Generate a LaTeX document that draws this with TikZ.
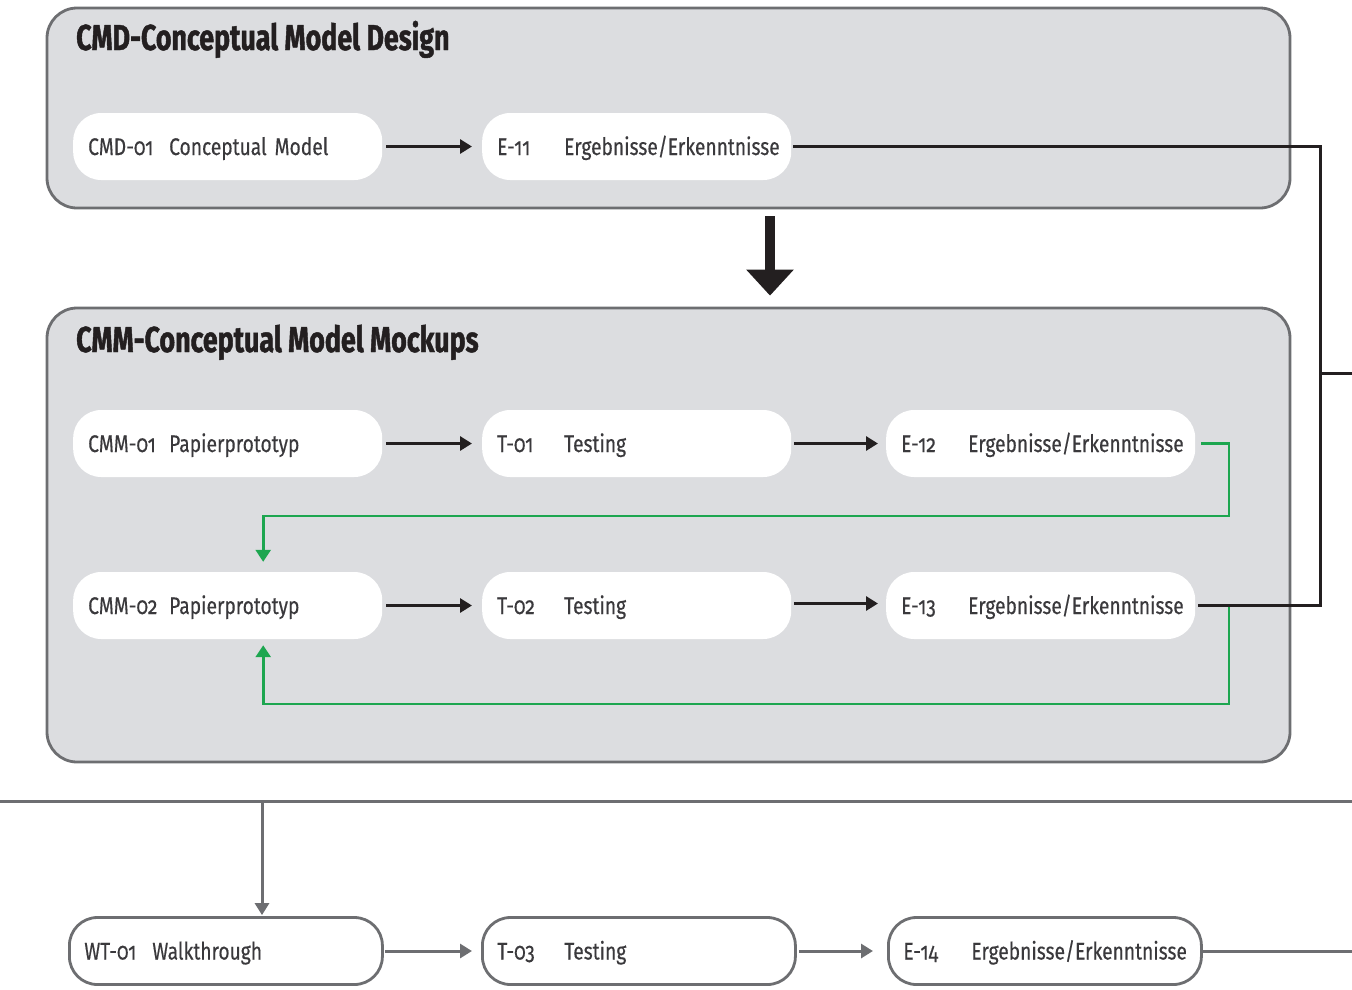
\documentclass[tikz,border=0pt]{standalone}
\usepackage{fontspec}
\setmainfont{Fira Sans}[FakeStretch=0.8, Numbers=OldStyle, FakeBold=0.4]
\newfontfamily\titlefont{Fira Sans}[FakeStretch=0.745, FakeBold=1.2]
\usetikzlibrary{arrows.meta}

\definecolor{panelfill}{RGB}{220,221,224}
\definecolor{panelline}{RGB}{109,110,113}
\definecolor{ink}{RGB}{35,31,32}
\definecolor{txt}{RGB}{58,57,60}
\definecolor{loopgreen}{RGB}{29,166,80}

\newcommand{\pfx}[2]{\makebox[#1pt][l]{#2}}

\tikzset{
  panel/.style={draw=panelline, fill=panelfill, line width=2.8pt, rounded corners=30pt, inner sep=0pt},
  paneltitle/.style={anchor=base west, inner sep=0pt, text=ink,
    font=\fontsize{36}{40}\titlefont\bfseries},
  pill/.style={fill=white, rounded corners=28pt, minimum height=67pt, text width=279pt,
    inner xsep=15pt, inner ysep=0pt, align=left, anchor=west, text=txt,
    text height=17pt, text depth=0pt, font=\fontsize{24}{28}\selectfont},
  outpill/.style={pill, text width=283pt, draw=panelline, line width=2.8pt},
  flow/.style={draw=ink, line width=3pt, -{Triangle[length=12pt,width=14pt]}},
  feedback/.style={draw=ink, line width=3pt},
  loopback/.style={draw=loopgreen, line width=2.8pt, -{Triangle[length=12pt,width=15pt]}},
  grayflow/.style={draw=panelline, line width=3pt, -{Triangle[length=12pt,width=14pt]}},
  grayline/.style={draw=panelline, line width=3pt},
  bigarrow/.style={draw=ink, line width=10pt, -{Triangle[length=26pt,width=46pt]}}
}

\begin{document}
\begin{tikzpicture}[x=1pt, y=-1pt]
\useasboundingbox (0,0) rectangle (1352,989);

% phase panels
\node[panel, minimum width=1243pt, minimum height=200pt] (cmd) at (668.5,108) {};
\node[panel, minimum width=1243pt, minimum height=454pt] (cmm) at (668.5,535) {};
\node[paneltitle] (cmdtitle) at (76,50) {CMD-Conceptual Model Design};
\node[paneltitle] (cmmtitle) at (76,352) {CMM-Conceptual Model Mockups};

% CMD row
\node[pill] (cmd01) at (73,146.5) {\pfx{81}{CMD-01}Conceptual Model};
\node[pill] (e11) at (482,146.5) {\pfx{67}{E-11}Ergebnisse/Erkenntnisse};

% CMM rows
\node[pill] (cmm01) at (73,443.5) {\pfx{81}{CMM-01}Papierprototyp};
\node[pill] (t01) at (482,443.5) {\pfx{67}{T-01}Testing};
\node[pill] (e12) at (886,443.5) {\pfx{67}{E-12}Ergebnisse/Erkenntnisse};
\node[pill] (cmm02) at (73,605.5) {\pfx{81}{CMM-02}Papierprototyp};
\node[pill] (t02) at (482,605.5) {\pfx{67}{T-02}Testing};
\node[pill] (e13) at (886,605.5) {\pfx{67}{E-13}Ergebnisse/Erkenntnisse};

% walkthrough row
\node[outpill] (wt01) at (68,951) {\pfx{68}{WT-01}Walkthrough};
\node[outpill] (t03) at (481,951) {\pfx{67}{T-03}Testing};
\node[outpill] (e14) at (887,951) {\pfx{68}{E-14}Ergebnisse/Erkenntnisse};

% forward arrows
\draw[flow, shorten <=4pt, shorten >=10pt] (cmd01.east) -- (e11.west);
\draw[flow, shorten <=4pt, shorten >=10pt] (cmm01.east) -- (t01.west);
\draw[flow, shorten <=3pt, shorten >=8pt] (t01.east) -- (e12.west);
\draw[flow, shorten <=4pt, shorten >=10pt] (cmm02.east) -- (t02.west);
\draw[flow, shorten <=3pt, shorten >=8pt] ([yshift=2pt]t02.east) -- ([yshift=2pt]e13.west);

% phase transition
\draw[bigarrow] ([xshift=101.5pt,yshift=-7pt]cmd.south) -- ([xshift=101.5pt,yshift=11pt]cmm.north);

% results bus on the right
\coordinate (bus) at (1320,373);
\coordinate (busout) at (1352,373);
\draw[feedback] ([xshift=2pt]e11.east) -| (bus) |- ([xshift=3pt]e13.east);
\draw[feedback] (bus) -- (busout);

% iteration loops
\coordinate (g1) at (1229,516);
\coordinate (g2) at (1229,704);
\draw[loopback, shorten >=10pt] ([xshift=6pt]e12.east) -| (g1) -| ([xshift=35.5pt]cmm02.north);
\draw[loopback, shorten >=6pt] ([yshift=-1.5pt]e13.east -| g2) -- (g2) -| ([xshift=35.5pt]cmm02.south);

% rail to walkthrough
\coordinate (railL) at (0,801);
\coordinate (railR) at (1352,801);
\coordinate (railtap) at (262,801);
\draw[grayline] (railL) -- (railR);
\draw[grayflow, shorten >=1pt] (railtap) -- (railtap |- wt01.north);
\draw[grayflow, shorten <=1pt, shorten >=9pt] (wt01.east) -- (t03.west);
\draw[grayflow, shorten <=2pt, shorten >=14pt] (t03.east) -- (e14.west);
\coordinate (endout) at (1352,951);
\draw[grayline] (e14.east) -- (endout);
\end{tikzpicture}
\end{document}
